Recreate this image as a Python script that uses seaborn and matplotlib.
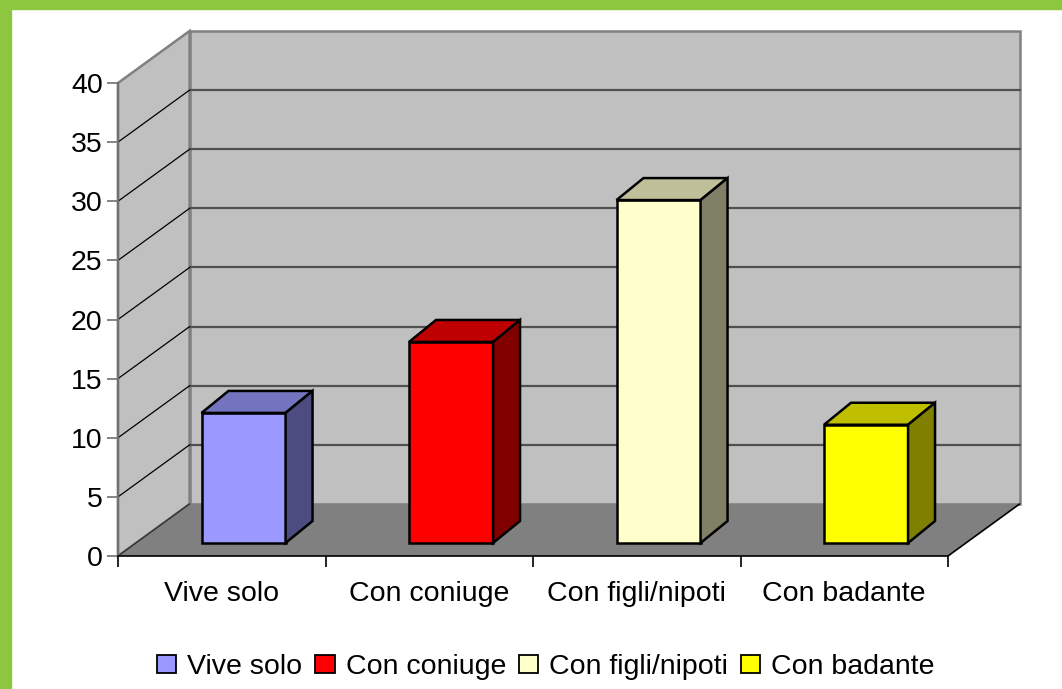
import numpy as np
import pandas as pd
import seaborn as sns
import matplotlib.pyplot as plt
from matplotlib.patches import Polygon, Patch, Rectangle

categories = ['Vive solo', 'Con coniuge', 'Con figli/nipoti', 'Con badante']
values = [11, 17, 29, 10]
front_colors = ['#9999ff', '#ff0000', '#ffffcc', '#ffff00']
top_colors = ['#7373bf', '#bf0000', '#bfbf99', '#bfbf00']
side_colors = ['#4c4c80', '#800000', '#808066', '#808000']
y_ticks = [0, 5, 10, 15, 20, 25, 30, 35, 40]

sns.set_style('white')
plt.rcParams['font.family'] = ['Liberation Sans', 'DejaVu Sans']
plt.rcParams['text.color'] = 'black'

W, H = 1062, 689
fig = plt.figure(figsize=(W / 100, H / 100), dpi=100)
ax = fig.add_axes([118 / W, 1 - 556 / H, 830 / W, 473 / H])
ax.patch.set_visible(False)

# fake 3d: depth of the walls and of the bars, in data units
DX, DY = 0.345, 4.4
BDX, BDY = 0.13, 1.86
BASE, SHIFT = 1.1, 0.105
ymax = y_ticks[-1]
xl, xr = -0.5, len(categories) - 0.5

df = pd.DataFrame({'gruppo': categories, 'valore': values})
sns.barplot(data=df, x='gruppo', y='valore', hue='gruppo', palette=front_colors,
            width=0.405, edgecolor='black', linewidth=1.8, saturation=1,
            errorbar=None, legend=False, ax=ax, zorder=3)

bars = list(ax.patches)
for p in bars:
    i = int(round(p.get_x() + p.get_width() / 2))
    x0 = p.get_x() + SHIFT
    x1 = x0 + p.get_width()
    top = BASE + p.get_height()
    p.set_x(x0)
    p.set_y(BASE)
    p.set_clip_on(False)
    ax.add_patch(Polygon([(x0, top), (x1, top), (x1 + BDX, top + BDY), (x0 + BDX, top + BDY)],
                         closed=True, fc=top_colors[i], ec='black', lw=1.8, zorder=3, clip_on=False))
    ax.add_patch(Polygon([(x1, BASE), (x1 + BDX, BASE + BDY), (x1 + BDX, top + BDY), (x1, top)],
                         closed=True, fc=side_colors[i], ec='black', lw=1.8, zorder=3, clip_on=False))

# walls and floor
ax.add_patch(Polygon([(xl + DX, DY), (xr + DX, DY), (xr + DX, ymax + DY), (xl + DX, ymax + DY)],
                     closed=True, fc='#c0c0c0', ec='#808080', lw=1.8, zorder=0.2, clip_on=False))
ax.add_patch(Polygon([(xl, 0), (xl + DX, DY), (xl + DX, ymax + DY), (xl, ymax)],
                     closed=True, fc='#c0c0c0', ec='#808080', lw=1.8, zorder=0.3, clip_on=False))
ax.add_patch(Polygon([(xl, 0), (xr, 0), (xr + DX, DY), (xl + DX, DY)],
                     closed=True, fc='#808080', ec='none', zorder=0.4, clip_on=False))
ax.plot([xr, xr + DX], [0, DY], color='black', lw=1.2, zorder=0.6, clip_on=False)
ax.plot([xl, xl + DX], [0, DY], color='#303030', lw=1.0, zorder=0.6, clip_on=False)

for v in y_ticks[1:-1]:
    ax.plot([xl + DX, xr + DX], [v + DY, v + DY], color='#505050', lw=1.6, zorder=0.5, clip_on=False)
    ax.plot([xl, xl + DX], [v, v + DY], color='black', lw=0.9, zorder=0.5, clip_on=False)

ax.set_xlim(xl, xr)
ax.set_ylim(0, ymax)
ax.set_xlabel('')
ax.set_ylabel('')
for s in ['top', 'right']:
    ax.spines[s].set_visible(False)
ax.spines['left'].set_color('#707070')
ax.spines['left'].set_linewidth(1.6)
ax.spines['left'].set_zorder(0.7)
ax.spines['bottom'].set_color('black')
ax.spines['bottom'].set_linewidth(1.2)

ax.set_yticks(y_ticks)
ax.tick_params(axis='y', left=True, length=8, width=1.2, color='#707070', pad=3,
               labelsize=20.5, labelcolor='black')
ax.set_xticks(range(len(categories)))
ax.set_xticklabels(categories)
ax.set_xticks(np.arange(xl, xr + 0.5, 1), minor=True)
ax.tick_params(axis='x', which='major', length=0, pad=18, labelsize=20.5, labelcolor='black')
ax.tick_params(axis='x', which='minor', bottom=True, length=8, width=1.2, color='black')

handles = [Patch(fc=c, ec='black', lw=1.3) for c in front_colors]
fig.legend(handles, categories, loc='center', bbox_to_anchor=(546 / W, 1 - 667 / H),
           ncol=4, frameon=False, fontsize=20.5, handlelength=0.67, handleheight=0.6,
           handletextpad=0.39, columnspacing=0.46, borderpad=0, labelcolor='black')

# green frame on the left and top
fig.add_artist(Rectangle((0, 0), 11 / W, 1, transform=fig.transFigure, color='#8dc63f', zorder=10))
fig.add_artist(Rectangle((0, 1 - 9 / H), 1, 9 / H, transform=fig.transFigure, color='#8dc63f', zorder=10))

fig.savefig('out.png', dpi=100)
